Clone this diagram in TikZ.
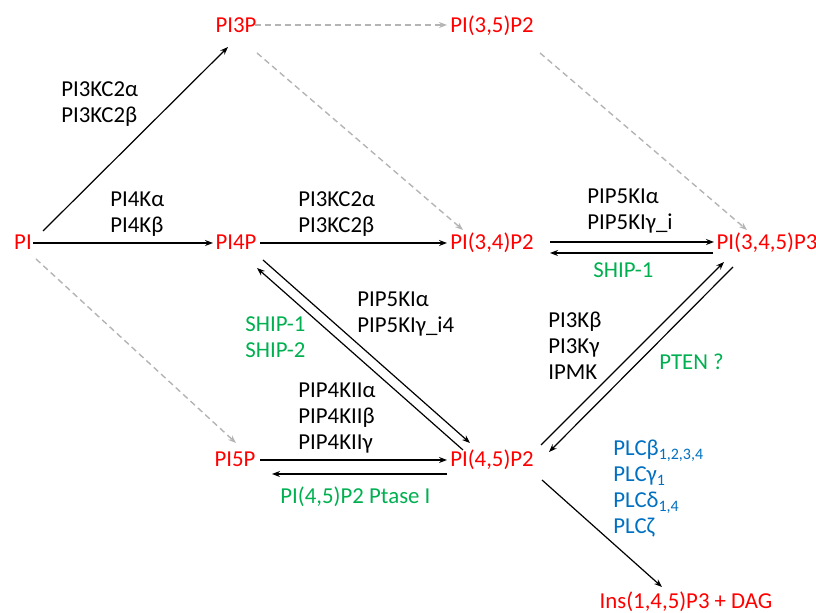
\documentclass[tikz,border=0pt]{standalone}
\usepackage{fontspec}
\setmainfont{Carlito}
\usetikzlibrary{arrows.meta}
\definecolor{lipred}{HTML}{FF0000}
\definecolor{phgreen}{HTML}{00B050}
\definecolor{plcblue}{HTML}{0070C0}
\definecolor{dashgray}{HTML}{B4B4B4}

\begin{document}
\begin{tikzpicture}[x=0.5pt, y=-0.5pt, >={Stealth[length=4pt, width=3pt]},
  lipid/.style={text=lipred, anchor=base, inner sep=0pt, font=\fontsize{11.4}{13}\selectfont},
  enz/.style={text=#1, anchor=west, align=left, inner sep=0pt, font=\fontsize{11.4}{13}\selectfont},
  enz/.default=black,
  conv/.style={->, line width=0.6pt},
  minor/.style={->, draw=dashgray, line width=0.7pt, dash pattern=on 3pt off 2pt}]

\useasboundingbox (0,0) rectangle (816,613);

% Lipids
\node[lipid] (pi) at (23,250) {PI};
\node[lipid] (pithreep) at (236,33) {PI3P};
\node[lipid] (pithreefive) at (492,33) {PI(3,5)P2};
\node[lipid] (pifourp) at (236,250) {PI4P};
\node[lipid] (pithreefour) at (492,250) {PI(3,4)P2};
\node[lipid] (pithreefourfive) at (767,250) {PI(3,4,5)P3};
\node[lipid] (pifivep) at (235,467) {PI5P};
\node[lipid] (pifourfive) at (492,467) {PI(4,5)P2};
\node[lipid] (ins) at (686,609) {Ins(1,4,5)P3 + DAG};

% Enzymes
\node[enz] (kctwoa) at (61,104) {PI3KC2α\\PI3KC2β};
\node[enz] (pifourk) at (110,214) {PI4Kα\\PI4Kβ};
\node[enz] (kctwob) at (298,214) {PI3KC2α\\PI3KC2β};
\node[enz] (pipfivea) at (587,211) {PIP5KIα\\PIP5KIγ\_i};
\node[enz=phgreen] (shipa) at (593,270) {SHIP-1};
\node[enz] (pipfiveb) at (357,314) {PIP5KIα\\PIP5KIγ\_i4};
\node[enz=phgreen] (shipb) at (245,337) {SHIP-1\\SHIP-2};
\node[enz] (pithreek) at (548,346) {PI3Kβ\\PI3Kγ\\IPMK};
\node[enz=phgreen] (pten) at (659,362) {PTEN ?};
\node[enz] (pipfourk) at (298,418) {PIP4KIIα\\PIP4KIIβ\\PIP4KIIγ};
\node[enz=phgreen] (ptase) at (280,497) {PI(4,5)P2 Ptase I};
\node[enz=plcblue] (plc) at (613,489) {PLCβ\textsubscript{1,2,3,4}\\PLCγ\textsubscript{1}\\PLCδ\textsubscript{1,4}\\PLCζ};

% Conversions
\draw[conv] ([shift={(20,-19)}]pi.base) -- ([shift={(-8,14)}]pithreep.base);
\draw[conv] ([shift={(10,-7)}]pi.base) -- ([shift={(-23,-7)}]pifourp.base);
\draw[minor] ([shift={(13,9)}]pi.base) -- ([shift={(1,-24)}]pifivep.base);
\draw[minor] ([shift={(19,-8)}]pithreep.base) -- ([shift={(-45,-8)}]pithreefive.base);
\draw[minor] ([shift={(21,20)}]pithreep.base) -- ([shift={(-29,-20)}]pithreefour.base);
\draw[minor] ([shift={(48,20)}]pithreefive.base) -- ([shift={(-20,-20)}]pithreefourfive.base);
\draw[conv] ([shift={(24,-7)}]pifourp.base) -- ([shift={(-45,-7)}]pithreefour.base);
\draw[conv] ([shift={(58,-8)}]pithreefour.base) -- ([shift={(-53,-8)}]pithreefourfive.base);
\draw[conv] ([shift={(-54,3)}]pithreefourfive.base) -- ([shift={(58,3)}]pithreefour.base);
\draw[conv] ([shift={(27,10)}]pifourp.base) -- ([shift={(-22,-24)}]pifourfive.base);
\draw[conv] ([shift={(-29,-17)}]pifourfive.base) -- ([shift={(21,18)}]pifourp.base);
\draw[conv] ([shift={(25,-7)}]pifivep.base) -- ([shift={(-45,-7)}]pifourfive.base);
\draw[conv] ([shift={(-45,7)}]pifourfive.base) -- ([shift={(37,7)}]pifivep.base);
\draw[conv] ([shift={(49,-22)}]pifourfive.base) -- ([shift={(-43,12)}]pithreefourfive.base);
\draw[conv] ([shift={(-34,17)}]pithreefourfive.base) -- ([shift={(57,-15)}]pifourfive.base);
\draw[conv] ([shift={(50,13)}]pifourfive.base) -- ([shift={(-24,-22)}]ins.base);

\end{tikzpicture}
\end{document}
